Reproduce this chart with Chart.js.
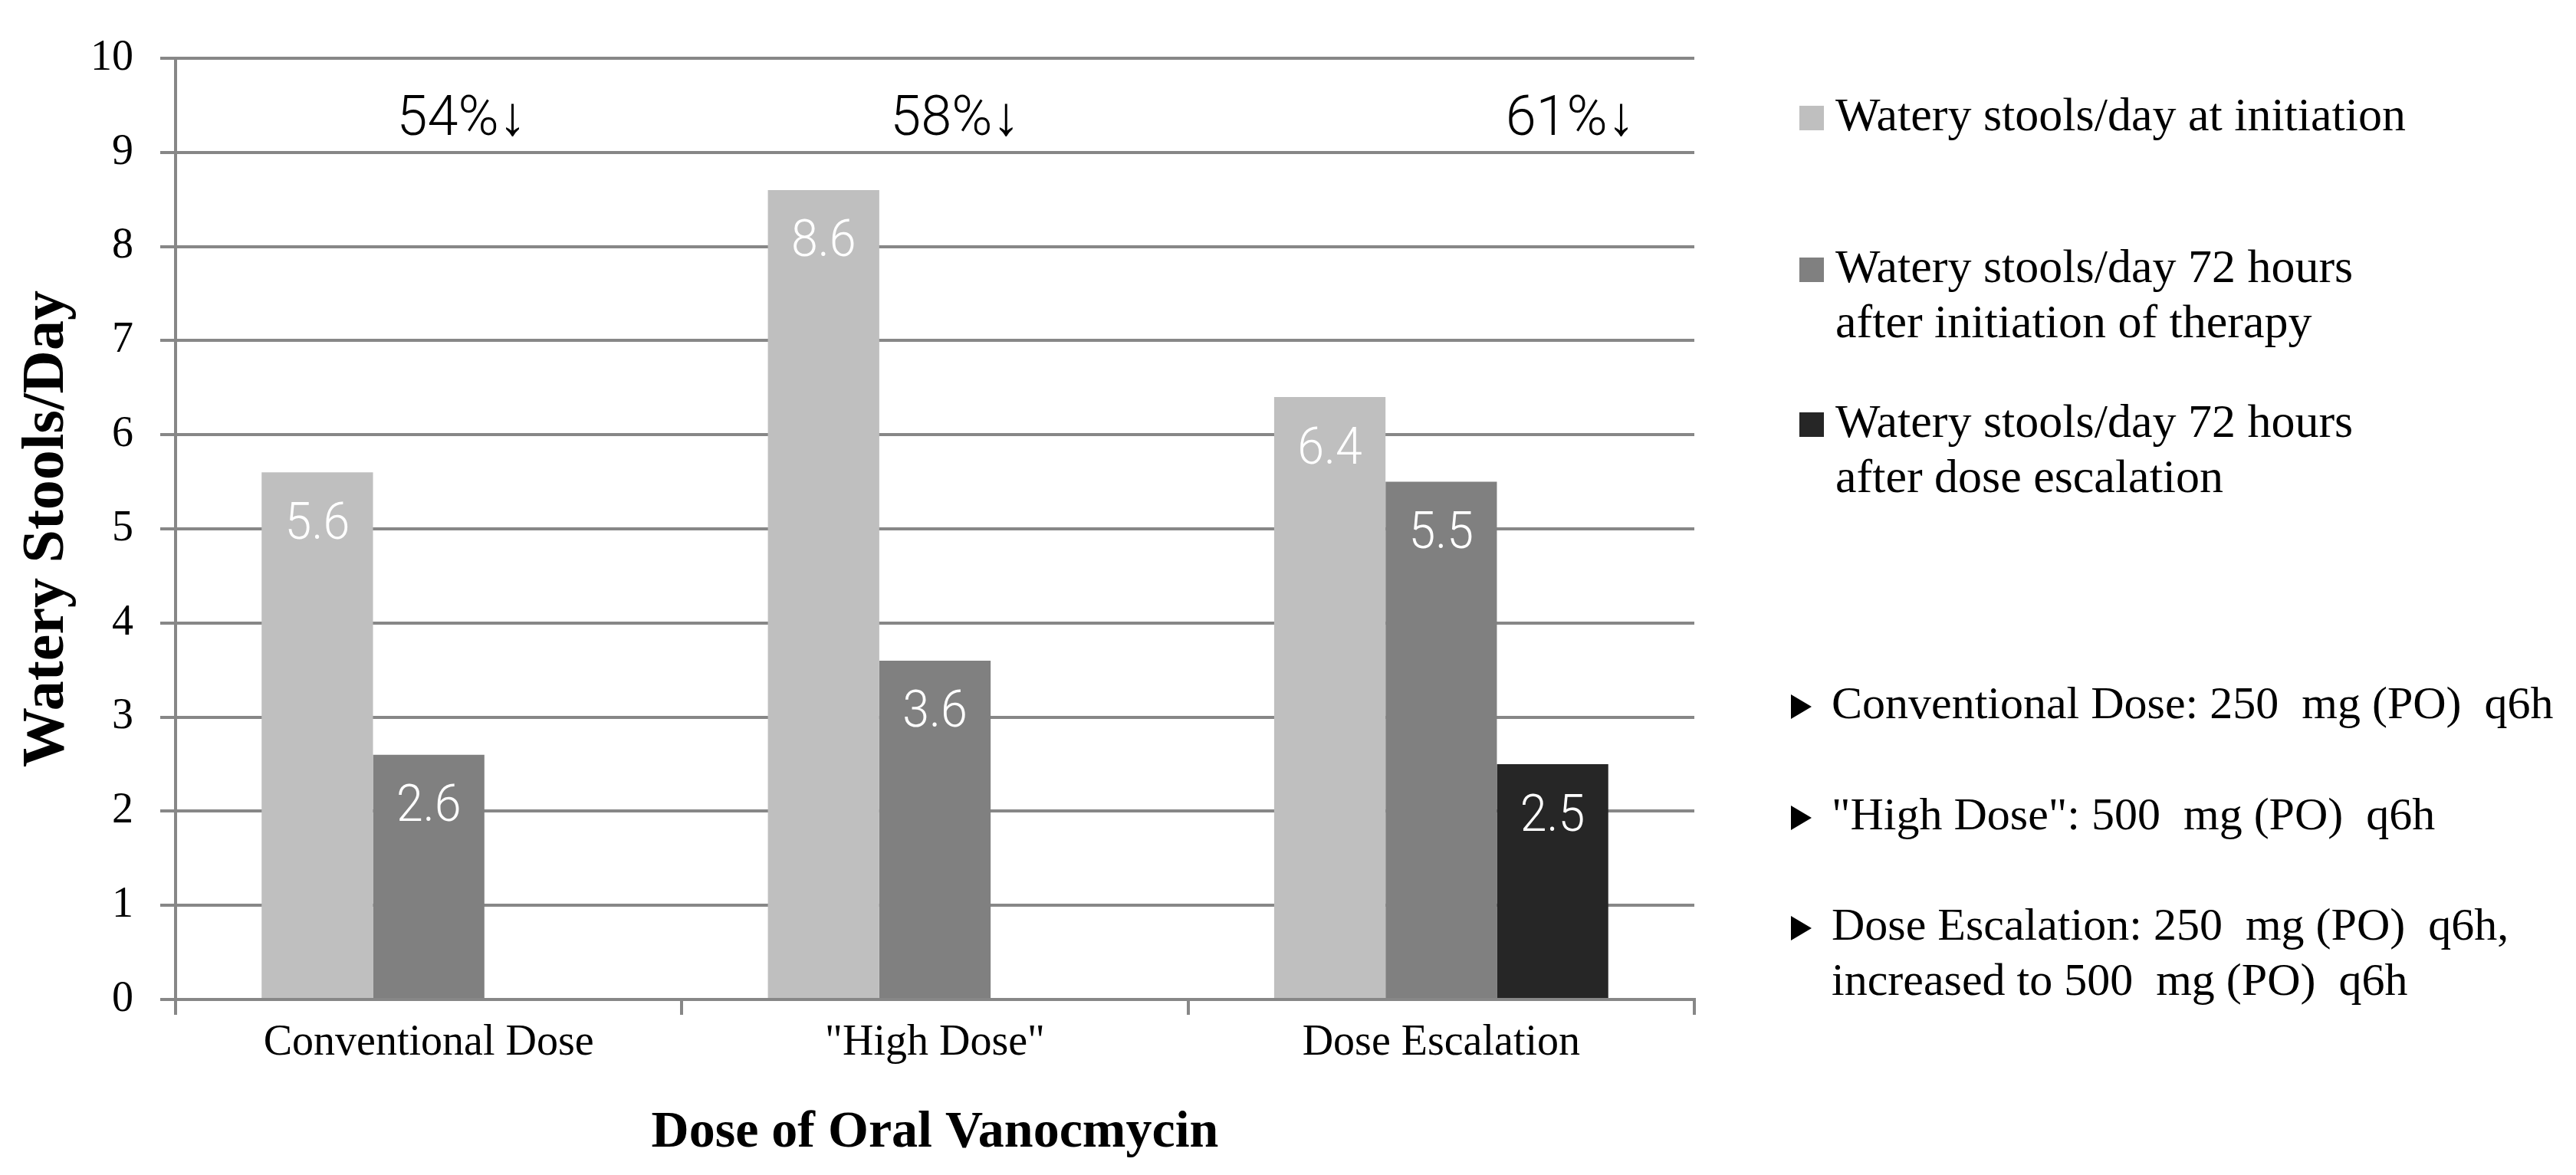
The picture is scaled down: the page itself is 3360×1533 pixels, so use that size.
<!DOCTYPE html>
<html>
<head>
<meta charset="utf-8">
<title>Watery stools/day by dose of oral vancomycin</title>
<script src="https://cdn.jsdelivr.net/npm/chart.js@4.4.1/dist/chart.umd.min.js"></script>
<style>
  html, body { margin: 0; padding: 0; background: #fff; }
  #wrap { width: 3360px; height: 1533px; }
</style>
</head>
<body>
<div id="wrap"><canvas id="chart"></canvas></div>
<script>
// Categories (x axis)
const doseGroups = ['Conventional Dose', '"High Dose"', 'Dose Escalation'];

// Series values (watery stools per day)
const atInitiation = [5.6, 8.6, 6.4];
const after72hInitiation = [2.6, 3.6, 5.5];
const after72hEscalation = [null, null, 2.5];

// Series names, one array of lines per series
const seriesNames = [
    ['Watery stools/day at initiation'],
    ['Watery stools/day 72 hours', 'after initiation of therapy'],
    ['Watery stools/day 72 hours', 'after dose escalation']
];

// Reduction labels over each group
const reductionLabels = ['54%\u2193', '58%\u2193', '61%\u2193'];

// Dose notes at the lower right
const doseNotes = [
    ['Conventional Dose: 250  mg (PO)  q6h'],
    ['"High Dose": 500  mg (PO)  q6h'],
    ['Dose Escalation: 250  mg (PO)  q6h,', 'increased to 500  mg (PO)  q6h']
];

// Y axis range
const yMin = 0;
const yMax = 10;
const yStep = 1;

const SERIF = '"Liberation Serif", "Times New Roman", serif';
const THIN = '300 66px Roboto, "Liberation Sans", sans-serif';
const GRID = '#878787';
const colors = ['#bfbfbf', '#808080', '#262626'];

// narrow text: squeeze horizontally around the anchor point
function narrowText(ctx, txt, x, y, squeeze) {
    ctx.save();
    ctx.translate(x, y);
    ctx.scale(squeeze, 1);
    ctx.fillText(txt, 0, 0);
    ctx.restore();
}

// Value labels drawn in white just below the top of each bar
const barValues = {
    id: 'barValues',
    afterDatasetsDraw(chart) {
        const ctx = chart.ctx;
        ctx.save();
        ctx.font = THIN;
        ctx.fillStyle = '#ffffff';
        ctx.textAlign = 'center';
        ctx.textBaseline = 'middle';
        chart.data.datasets.forEach((ds, i) => {
            chart.getDatasetMeta(i).data.forEach((bar, j) => {
                const v = ds.data[j];
                if (v === null || v === undefined) return;
                narrowText(ctx, v.toFixed(1), bar.x, bar.y + 70, 0.95);
            });
        });
        ctx.restore();
    }
};

// Percent reduction text near the top of each group
const reductionNotes = {
    id: 'reductionNotes',
    afterDatasetsDraw(chart) {
        const ctx = chart.ctx;
        const x = chart.scales.x, y = chart.scales.y;
        const catW = (x.right - x.left) / doseGroups.length;
        const shift = [0.065, 0.04, 0.255];
        ctx.save();
        ctx.font = '300 72px Roboto, "Liberation Sans", sans-serif';
        ctx.fillStyle = '#000';
        ctx.textAlign = 'center';
        ctx.textBaseline = 'middle';
        reductionLabels.forEach((txt, j) => {
            narrowText(ctx, txt, x.getPixelForValue(j) + shift[j] * catW, y.getPixelForValue(9.33), 1.0);
        });
        ctx.restore();
    }
};

// Legend and notes on the right side
const sidePanel = {
    id: 'sidePanel',
    afterDraw(chart) {
        const ctx = chart.ctx;
        ctx.save();
        ctx.textBaseline = 'middle';
        ctx.textAlign = 'left';
        ctx.fillStyle = '#000';

        const legendTop = [154, 352, 554];
        const legendLine = 72;
        chart.data.datasets.forEach((ds, i) => {
            const y0 = legendTop[i];
            ctx.fillStyle = ds.backgroundColor;
            ctx.fillRect(2347, y0 - 16, 32, 32);
            ctx.fillStyle = '#000';
            ctx.font = '62px ' + SERIF;
            seriesNames[i].forEach((line, k) => {
                ctx.fillText(line, 2394, y0 + k * legendLine);
            });
        });

        const noteTop = [921, 1066, 1210];
        doseNotes.forEach((lines, i) => {
            const y0 = noteTop[i];
            // bullet triangle
            ctx.beginPath();
            ctx.moveTo(2336, y0 - 15);
            ctx.lineTo(2363, y0 + 1);
            ctx.lineTo(2336, y0 + 17);
            ctx.closePath();
            ctx.fill();
            ctx.font = '60px ' + SERIF;
            lines.forEach((line, k) => {
                ctx.fillText(line, 2389, y0 + k * 72);
            });
        });
        ctx.restore();
    }
};

new Chart(document.getElementById('chart').getContext('2d'), {
    type: 'bar',
    data: {
        labels: doseGroups,
        datasets: [
            { label: seriesNames[0].join(' '), data: atInitiation, backgroundColor: colors[0] },
            { label: seriesNames[1].join(' '), data: after72hInitiation, backgroundColor: colors[1] },
            { label: seriesNames[2].join(' '), data: after72hEscalation, backgroundColor: colors[2] }
        ]
    },
    options: {
        responsive: true,
        maintainAspectRatio: false,
        devicePixelRatio: 1,
        animation: false,
        datasets: { bar: { categoryPercentage: 0.66, barPercentage: 1.0 } },
        layout: { padding: { left: 0, right: 1150, top: 76, bottom: 0 } },
        plugins: {
            legend: { display: false },
            tooltip: { enabled: false }
        },
        scales: {
            x: {
                grid: { drawOnChartArea: false, drawTicks: true, tickLength: 20, color: GRID, lineWidth: 4, offset: true },
                border: { display: true, color: GRID, width: 4 },
                ticks: { color: '#000', font: { family: SERIF, size: 56 }, padding: 4 },
                title: {
                    display: true, text: 'Dose of Oral Vanocmycin', color: '#000',
                    font: { family: SERIF, size: 68, weight: 'bold' }, padding: { top: 0, bottom: 14 }
                },
                afterFit(scale) { scale.height = 229; }
            },
            y: {
                min: yMin, max: yMax,
                grid: { color: GRID, lineWidth: 4, tickLength: 20, drawTicks: true },
                border: { display: true, color: GRID, width: 4 },
                ticks: { stepSize: yStep, color: '#000', font: { family: SERIF, size: 56 }, padding: 35 },
                title: {
                    display: true, text: 'Watery Stools/Day', color: '#000',
                    font: { family: SERIF, size: 78, weight: 'bold' }, padding: { top: 15, bottom: 0 }
                },
                afterFit(scale) { scale.width = 229; }
            }
        }
    },
    plugins: [barValues, reductionNotes, sidePanel]
});
</script>
</body>
</html>
